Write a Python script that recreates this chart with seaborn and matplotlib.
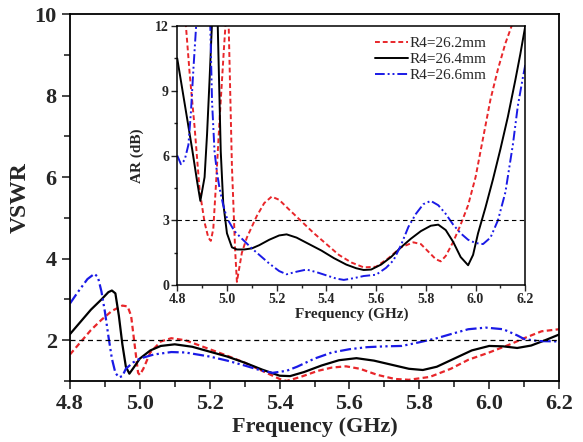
import numpy as np
import pandas as pd
import matplotlib
matplotlib.use("Agg")
import matplotlib.pyplot as plt
from matplotlib.ticker import MultipleLocator
import seaborn as sns

# === VSWR (courbe principale) ===
vswr_262_f = [4.80, 4.83, 4.86, 4.89, 4.92, 4.95, 4.965, 4.975, 4.985, 4.995, 5.00, 5.01, 5.03, 5.06, 5.09,
              5.13, 5.20, 5.25, 5.30, 5.35, 5.40, 5.42, 5.46, 5.51, 5.55, 5.59, 5.63, 5.68, 5.73, 5.77,
              5.83, 5.89, 5.94, 6.00, 6.06, 6.10, 6.15, 6.20]
vswr_262 = [1.65, 1.95, 2.25, 2.5, 2.72, 2.85, 2.83, 2.6, 1.9, 1.2, 1.15, 1.3, 1.7, 1.97, 2.05,
            2.0, 1.78, 1.62, 1.45, 1.25, 1.05, 1.0, 1.1, 1.25, 1.33, 1.36, 1.3, 1.15, 1.05, 1.03,
            1.1, 1.3, 1.52, 1.7, 1.9, 2.05, 2.22, 2.27]

vswr_264_f = [4.80, 4.83, 4.86, 4.89, 4.91, 4.92, 4.93, 4.94, 4.95, 4.96, 4.97, 4.98, 5.00, 5.03, 5.06,
              5.10, 5.15, 5.20, 5.25, 5.30, 5.35, 5.40, 5.43, 5.47, 5.52, 5.57, 5.62, 5.67, 5.72, 5.77,
              5.81, 5.85, 5.90, 5.95, 6.00, 6.04, 6.08, 6.12, 6.16, 6.20]
vswr_264 = [2.15, 2.45, 2.75, 3.0, 3.18, 3.22, 3.15, 2.6, 1.9, 1.35, 1.18, 1.3, 1.55, 1.75, 1.86,
            1.9, 1.84, 1.72, 1.6, 1.45, 1.28, 1.13, 1.12, 1.22, 1.38, 1.51, 1.56, 1.5, 1.4, 1.3,
            1.27, 1.35, 1.55, 1.75, 1.86, 1.85, 1.81, 1.87, 2.0, 2.14]

vswr_266_f = [4.80, 4.82, 4.85, 4.87, 4.88, 4.89, 4.90, 4.91, 4.92, 4.93, 4.94, 4.95, 4.96, 4.98, 5.00,
              5.04, 5.09, 5.13, 5.20, 5.25, 5.30, 5.35, 5.38, 5.42, 5.45, 5.50, 5.55, 5.60, 5.65, 5.70,
              5.75, 5.80, 5.85, 5.89, 5.94, 5.99, 6.04, 6.08, 6.10, 6.14, 6.20]
vswr_266 = [2.9, 3.15, 3.5, 3.63, 3.55, 3.2, 2.7, 2.1, 1.55, 1.2, 1.09, 1.12, 1.3, 1.45, 1.55,
            1.65, 1.71, 1.7, 1.6, 1.5, 1.38, 1.25, 1.2, 1.25, 1.35, 1.55, 1.7, 1.78, 1.83, 1.85,
            1.86, 1.95, 2.05, 2.15, 2.27, 2.31, 2.27, 2.12, 2.03, 1.98, 1.97]

# === AR (encart) ===
ar_262_f = [4.82, 4.835, 4.85, 4.87, 4.89, 4.91, 4.925, 4.935, 4.945, 4.955, 4.97, 4.987, 4.995, 5.00,
            5.007, 5.02, 5.033, 5.04, 5.06, 5.08, 5.10, 5.12, 5.15, 5.18, 5.21, 5.25, 5.30, 5.35,
            5.40, 5.45, 5.50, 5.55, 5.60, 5.65, 5.70, 5.75, 5.78, 5.81, 5.84, 5.86, 5.88, 5.91,
            5.94, 5.97, 6.00, 6.03, 6.06, 6.09, 6.12, 6.145, 6.16]
ar_262 = [14.0, 12.0, 9.8, 7.3, 4.4, 2.9, 2.2, 2.05, 2.6, 4.5, 7.6, 10.8, 12.2, 13.0,
          12.0, 5.5, 1.6, 0.15, 1.5, 2.2, 2.7, 3.2, 3.8, 4.1, 3.95, 3.5, 2.95, 2.4,
          1.9, 1.4, 1.05, 0.82, 0.85, 1.25, 1.75, 1.98, 1.9, 1.55, 1.2, 1.1, 1.35, 2.0,
          2.8, 3.7, 5.0, 6.8, 8.6, 10.0, 11.2, 12.0, 12.8]

ar_264_f = [4.80, 4.82, 4.84, 4.86, 4.88, 4.893, 4.91, 4.92, 4.93, 4.94, 4.95, 4.963, 4.975, 4.985,
            5.00, 5.02, 5.04, 5.07, 5.10, 5.13, 5.17, 5.21, 5.24, 5.28, 5.33, 5.38, 5.43, 5.48,
            5.52, 5.55, 5.58, 5.62, 5.66, 5.70, 5.74, 5.78, 5.82, 5.85, 5.88, 5.91, 5.94, 5.97,
            5.99, 6.01, 6.04, 6.07, 6.10, 6.13, 6.16, 6.18, 6.20]
ar_264 = [10.5, 9.1, 7.7, 6.3, 4.8, 3.9, 5.0, 7.0, 9.5, 12.2, 14.0, 12.0, 6.2, 3.8,
          2.4, 1.75, 1.65, 1.65, 1.7, 1.85, 2.1, 2.3, 2.35, 2.2, 1.9, 1.6, 1.25, 0.95,
          0.78, 0.7, 0.72, 0.95, 1.3, 1.75, 2.15, 2.5, 2.75, 2.8, 2.55, 2.0, 1.3, 0.92,
          1.4, 2.4, 3.6, 4.9, 6.3, 7.8, 9.5, 10.7, 12.0]

ar_266_f = [4.80, 4.815, 4.83, 4.845, 4.855, 4.865, 4.876, 4.89, 4.91, 4.933, 4.94, 4.95, 4.96,
            4.97, 4.985, 5.00, 5.03, 5.06, 5.10, 5.14, 5.17, 5.21, 5.24, 5.28, 5.32, 5.36, 5.40,
            5.44, 5.47, 5.51, 5.55, 5.60, 5.64, 5.67, 5.70, 5.73, 5.76, 5.79, 5.82, 5.85, 5.88,
            5.91, 5.94, 5.97, 6.00, 6.03, 6.06, 6.09, 6.12, 6.15, 6.17, 6.19, 6.20]
ar_266 = [6.0, 5.6, 5.8, 6.5, 8.0, 10.0, 12.0, 14.0, 14.0, 12.0, 8.5, 6.2, 5.2,
          4.5, 3.7, 3.1, 2.5, 2.15, 1.7, 1.3, 1.0, 0.65, 0.5, 0.62, 0.72, 0.6, 0.45,
          0.3, 0.24, 0.32, 0.42, 0.48, 0.8, 1.15, 1.85, 2.7, 3.3, 3.75, 3.9, 3.7, 3.3,
          2.8, 2.4, 2.1, 1.95, 1.9, 2.2, 3.0, 4.3, 6.5, 8.3, 9.6, 10.2]

labels = ["R4=26.2mm", "R4=26.4mm", "R4=26.6mm"]
colors = ["#e8262a", "black", "#1a1ae6"]
styles = [(0, (2.5, 1.5)), "-", (0, (5, 1.5, 1, 1.5, 1, 1.5))]

sns.set_style("white")
plt.rcParams["font.family"] = ["Liberation Serif", "DejaVu Serif"]

fig = plt.figure(figsize=(5.83, 4.42), dpi=100)
ax = fig.add_axes([0.120, 0.138, 0.839, 0.830])
ins = fig.add_axes([0.304, 0.355, 0.597, 0.586])

vswr = [(vswr_262_f, vswr_262), (vswr_264_f, vswr_264), (vswr_266_f, vswr_266)]
ar = [(ar_262_f, ar_262), (ar_264_f, ar_264), (ar_266_f, ar_266)]

for (f, v), lab, c, ls in zip(vswr, labels, colors, styles):
    sns.lineplot(x=f, y=v, ax=ax, color=c, linestyle=ls, linewidth=1.6, label=lab, legend=False)
ax.axhline(2, color="black", linestyle=(0, (4, 3)), linewidth=0.9)

for (f, v), lab, c, ls in zip(ar, labels, colors, styles):
    sns.lineplot(x=f, y=v, ax=ins, color=c, linestyle=ls, linewidth=1.4, label=lab)
ins.axhline(3, color="black", linestyle=(0, (4, 3)), linewidth=0.8)

# === Axes principaux ===
ax.set_xlim(4.8, 6.2)
ax.set_ylim(1, 10)
ax.xaxis.set_major_locator(MultipleLocator(0.2))
ax.xaxis.set_minor_locator(MultipleLocator(0.1))
ax.yaxis.set_major_locator(MultipleLocator(2))
ax.yaxis.set_minor_locator(MultipleLocator(1))
ax.tick_params(which="both", direction="out", bottom=True, left=True, width=1.2)
ax.tick_params(which="major", length=6, labelsize=16)
ax.tick_params(which="minor", length=4)
for t in ax.get_xticklabels() + ax.get_yticklabels():
    t.set_fontweight("bold")
ax.set_xlabel("Frequency (GHz)", fontsize=16, fontweight="bold", labelpad=2)
ax.set_ylabel("VSWR", fontsize=17, fontweight="bold", labelpad=3)
for s in ax.spines.values():
    s.set_linewidth(1.3)
    s.set_color("black")

# === Encart ===
ins.set_xlim(4.8, 6.2)
ins.set_ylim(0, 12)
ins.xaxis.set_major_locator(MultipleLocator(0.2))
ins.xaxis.set_minor_locator(MultipleLocator(0.1))
ins.yaxis.set_major_locator(MultipleLocator(3))
ins.yaxis.set_minor_locator(MultipleLocator(1.5))
ins.tick_params(which="both", direction="out", bottom=True, left=True, width=1.0, pad=2)
ins.tick_params(which="major", length=4, labelsize=10)
ins.tick_params(which="minor", length=2.5)
for t in ins.get_xticklabels() + ins.get_yticklabels():
    t.set_fontweight("bold")
ins.set_xlabel("Frequency (GHz)", fontsize=11, fontweight="bold", labelpad=1)
ins.set_ylabel("AR (dB)", fontsize=11, fontweight="bold", labelpad=8)
for s in ins.spines.values():
    s.set_linewidth(1.1)
    s.set_color("black")
ins.legend(loc="upper right", bbox_to_anchor=(0.92, 1.0), frameon=False, fontsize=11,
           handlelength=2.2, handletextpad=0.1, labelspacing=0.15, borderaxespad=0.3)

fig.savefig("out.png", dpi=100)
